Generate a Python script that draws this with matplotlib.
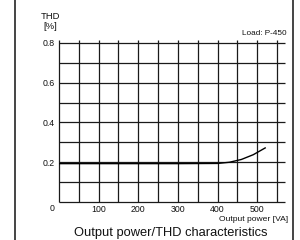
import matplotlib
matplotlib.use("Agg")
import matplotlib.pyplot as plt
from matplotlib.lines import Line2D

plt.rcParams['font.family'] = ['Liberation Sans', 'DejaVu Sans']

# Data
power_va = [0, 100, 200, 300, 400, 430, 460, 490, 520]
thd_pct = [0.193, 0.193, 0.193, 0.193, 0.194, 0.200, 0.214, 0.238, 0.272]
x_ticks = [100, 200, 300, 400, 500]
y_ticks = [0.2, 0.4, 0.6, 0.8]
x_grid = [0, 50, 100, 150, 200, 250, 300, 350, 400, 450, 500, 550]
y_grid = [0, 0.1, 0.2, 0.3, 0.4, 0.5, 0.6, 0.7, 0.8]

W, H = 300, 240
fig = plt.figure(figsize=(3.0, 2.4), dpi=100)
fig.patch.set_facecolor('white')

# axes: x 0 -> px 59, 570 -> px 285 ; y 0 -> px 202, 0.815 -> px 40
ax = fig.add_axes([59 / W, (H - 202) / H, (285 - 59) / W, (202 - 40) / H])
ax.set_xlim(0, 570)
ax.set_ylim(0, 0.815)
for s in ax.spines.values():
    s.set_visible(False)

gc = '#1a1a1a'
for y in y_grid:
    ax.plot([0, 570], [y, y], color=gc, lw=0.9, solid_capstyle='butt', clip_on=False)
for x in x_grid:
    ax.plot([x, x], [0, 0.815], color=gc, lw=0.9, solid_capstyle='butt', clip_on=False)

ax.plot(power_va, thd_pct, color='black', lw=1.0)

ax.set_xticks(x_ticks)
ax.set_yticks(y_ticks)
ax.set_xticklabels([str(v) for v in x_ticks])
ax.set_yticklabels([f"{v:.1f}" for v in y_ticks])
ax.tick_params(axis='both', length=0, labelsize=6.3, colors='#111')
ax.tick_params(axis='x', pad=2)
ax.tick_params(axis='y', pad=3)

def px(x, y):
    return x / W, (H - y) / H

fig.text(*px(52, 211), "0", fontsize=6.3, ha='center', va='baseline', color='#111')
fig.text(*px(41, 19), "THD", fontsize=6.8, ha='left', va='baseline', color='#111')
fig.text(*px(43, 29), "[%]", fontsize=6.8, ha='left', va='baseline', color='#111')
fig.text(*px(287, 35), "Load: P-450", fontsize=5.9, ha='right', va='baseline', color='#111')
fig.text(*px(288, 221), "Output power [VA]", fontsize=6.1, ha='right', va='baseline', color='#111')
fig.text(*px(171, 236), "Output power/THD characteristics", fontsize=9.3, ha='center', va='baseline', color='#111')

# frame side lines
fig.add_artist(Line2D([14.7 / W, 14.7 / W], [0, 1], color='#444', lw=1.4))
fig.add_artist(Line2D([293 / W, 293 / W], [0, 1], color='#444', lw=1.4))

fig.savefig("out.png", dpi=100)
